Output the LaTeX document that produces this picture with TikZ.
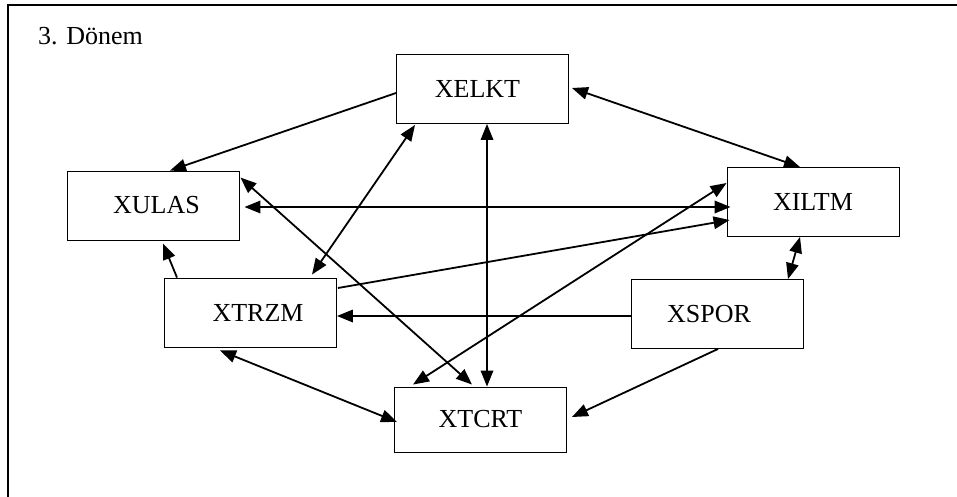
\documentclass[tikz,border=0pt]{standalone}
\usepackage{fontspec}
\setmainfont{Liberation Serif}
\usetikzlibrary{arrows.meta}
\begin{document}
\begin{tikzpicture}[x=1pt,y=-1pt,
  varbox/.style={draw, line width=0.9pt, minimum width=172pt, minimum height=69pt,
    inner sep=0pt, font=\fontsize{26}{30}\selectfont},
  tip/.tip={Triangle[length=16pt,width=12.5pt]},
  link/.style={line width=1.8pt, -tip},
  link2/.style={line width=1.8pt, tip-tip}]
\useasboundingbox (0,0) rectangle (957,497);

% open frame: top and left edges only
\draw[line width=2pt] (957,5) -- (8,5) -- (8,497);
\node[anchor=base west, inner sep=0pt] (title) at (38,45) {\fontsize{26}{30}\selectfont 3. Dönem};

% variables (the \hspace* pads nudge each label off centre)
\node[varbox] (elkt) at (482.5,89) {XELKT\hspace*{10pt}};
\node[varbox] (ulas) at (153,205.5) {\hspace*{7pt}XULAS};
\node[varbox] (iltm) at (813,202) {XILTM};
\node[varbox] (trzm) at (250.5,312.5) {\hspace*{15pt}XTRZM};
\node[varbox] (spor) at (717,314) {XSPOR\hspace*{16pt}};
\node[varbox, minimum height=65pt] (tcrt) at (480.5,419.5) {XTCRT};

% relations
\draw[link]  ([yshift=-4pt]elkt.west) -- ([xshift=17pt]ulas.north);
\draw[link2] ([xshift=3pt,yshift=1pt]elkt.east) -- ([xshift=-13pt]iltm.north);
\draw[link2] ([xshift=4.5pt]elkt.south) -- ([xshift=6.5pt]tcrt.north);
\draw[link2] ([xshift=5pt,yshift=-1.5pt]ulas.east) -- ([xshift=4pt,yshift=-5pt]iltm.west);
\draw[link2] ([xshift=1pt,yshift=-7pt]ulas.north east) -- ([xshift=-8.5pt,yshift=2pt]tcrt.north);
\draw[link]  ([xshift=-73.5pt]trzm.north) -- ([xshift=10pt,yshift=-3pt]ulas.south);
\draw[link2] ([xshift=61.5pt,yshift=3pt]trzm.north) -- ([xshift=-67.5pt,yshift=-1pt]elkt.south);
\draw[link]  ([xshift=1pt,yshift=24.5pt]trzm.east) -- ([xshift=3pt,yshift=-18pt]iltm.west);
\draw[link]  ([yshift=-2pt]spor.west) -- ([yshift=-2pt]spor.west -| trzm.east);
\draw[link2] ([yshift=19pt]iltm.west) -- ([xshift=-67.5pt,yshift=2pt]tcrt.north);
\draw[link2] ([xshift=-13pt]iltm.south) -- ([xshift=71pt]spor.north);
\draw[link]  ([xshift=1pt]spor.south) -- ([xshift=5pt,yshift=2.5pt]tcrt.east);
\draw[link2] ([xshift=-30.5pt,yshift=-3pt]trzm.south) -- ([xshift=3pt,yshift=-2.5pt]tcrt.west);
\end{tikzpicture}
\end{document}
